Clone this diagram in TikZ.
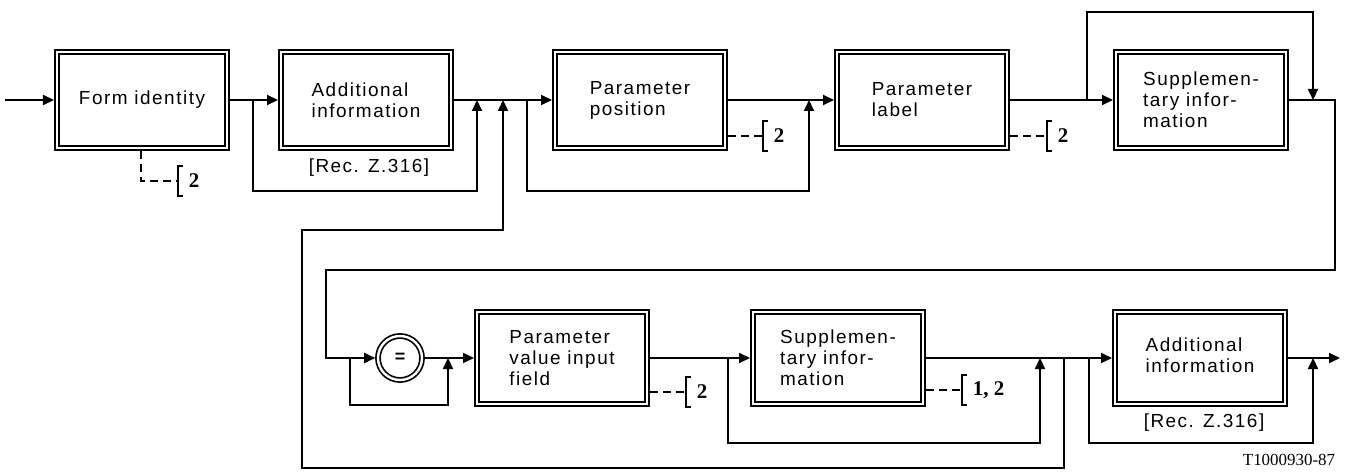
\documentclass[tikz,border=0pt]{standalone}
\usepackage{fontspec}
\setmainfont{Liberation Sans}[LetterSpace=8]
\newfontfamily\numfont{Liberation Serif}
\usetikzlibrary{arrows.meta}
\newcommand\boxfont{\fontsize{19}{21}\selectfont}
\newcommand\refnumfont{\numfont\bfseries\fontsize{21}{22}\selectfont}
\begin{document}
\begin{tikzpicture}[x=1bp,y=-1bp,line width=1.8bp,
  box/.style={draw, double, double distance=2.6bp, line width=1.8bp,
    minimum width=170bp, minimum height=96bp, outer sep=3bp, inner sep=1bp,
    align=left, font=\boxfont},
  lowbox/.style={box, minimum height=92bp},
  arr/.style={-{Triangle[length=11bp,width=10bp]}, line width=1.9bp},
  dsh/.style={line width=1.7bp, dash pattern=on 8bp off 5bp},
  brk/.style={line width=2.4bp},
  num/.style={font=\refnumfont, inner sep=0pt, anchor=west},
  lbl/.style={font=\boxfont, inner sep=0pt}]
\useasboundingbox (0,0) rectangle (1356,472);

% top row boxes
\node[box] (b1) at (142,100) {Form identity};
\node[box] (b2) at (366,100) {Additional\\information};
\node[box] (b3) at (640,100) {Parameter\\position};
\node[box] (b4) at (922,100) {Parameter\\label};
\node[box] (b5) at (1201,100) {Supplemen-\\tary infor-\\mation};

% bottom row
\node[draw, circle, double, double distance=2.4bp, line width=1.7bp,
  minimum size=44bp, inner sep=0pt, outer sep=2.8bp,
  font=\bfseries\fontsize{18}{18}\selectfont] (circ) at (400,358) {=};
\node[lowbox] (b6) at (562,358) {Parameter\\value input\\field};
\node[lowbox] (b7) at (838,358) {Supplemen-\\tary infor-\\mation};
\node[lowbox] (b8) at (1200,358) {\raisebox{-12bp}{\begin{tabular}{@{}l@{}}Additional\\information\end{tabular}}};

% reference labels
\node[lbl] (r1) at (369,168) {[Rec. Z.316]};
\node[lbl] (r2) at (1204,423) {[Rec. Z.316]};
\node[font=\numfont\fontsize{17}{19}\selectfont, inner sep=0pt] (tag) at (1289,460) {T1000930-87};

% coordinates
\coordinate (in) at (5,100);
\coordinate (lb1) at (0,191);
\coordinate (lb2) at (0,405);
\coordinate (lb3) at (0,443);
\coordinate (top) at (0,12);
\coordinate (j1) at (253,100);
\coordinate (m1) at (477,100);
\coordinate (m2) at (503,100);
\coordinate (j3) at (527,100);
\coordinate (m3) at (809,100);
\coordinate (j5) at (1087,100);
\coordinate (m5) at (1313,100);
\coordinate (r) at (1335,270);
\coordinate (c2) at (326,358);
\coordinate (j6) at (350,358);
\coordinate (m6) at (448,358);
\coordinate (j7) at (728,358);
\coordinate (m7) at (1040,358);
\coordinate (f0) at (1064,358);
\coordinate (fb) at (302,468);
\coordinate (ft) at (503,230);
\coordinate (j8) at (1089,358);
\coordinate (m8) at (1313,358);
\coordinate (out) at (1340,358);

% top row connectors
\draw[arr] (in) -- (b1.west);
\draw[arr] (b1.east) -- (b2.west);
\draw[arr] (j1) |- (lb1 -| m1) -- (m1);
\draw[arr] (b2.east) -- (b3.west);
\draw[arr] (j3) |- (lb1 -| m3) -- (m3);
\draw[arr] (b3.east) -- (b4.west);
\draw[arr] (b4.east) -- (b5.west);
\draw[arr] (j5) |- (top -| m5) -- (m5);
\draw[arr] (b5.east) -| (r) -| (c2) -- (circ.west);

% bottom row connectors
\draw[arr] (j6) |- (lb2 -| m6) -- (m6);
\draw[arr] (circ.east) -- (b6.west);
\draw[arr] (b6.east) -- (b7.west);
\draw[arr] (j7) |- (lb3 -| m7) -- (m7);
\draw[arr] (b7.east) -- (b8.west);
\draw[arr] (j8) |- (lb3 -| m8) -- (m8);
\draw[arr] (b8.east) -- (out);
\draw[arr] (f0) |- (fb) |- (ft) -- (m2);

% dashed references
\coordinate (k1) at (141,181);
\coordinate (br1) at (178,181);
\coordinate (br3) at (763,136);
\coordinate (br4) at (1047,136);
\coordinate (br6) at (686,392);
\coordinate (br7) at (962,390);
\draw[dsh] (b1.south -| k1) -- (k1) -- (br1);
\draw[dsh] (b3.east |- br3) -- (br3);
\draw[dsh] (b4.east |- br4) -- (br4);
\draw[dsh] (b6.east |- br6) -- (br6);
\draw[dsh] (b7.east |- br7) -- (br7);
\foreach \b in {br1,br3,br4,br6,br7}{
  \draw[brk] (\b) ++(5,-15) -- ++(-5,0) -- ++(0,30) -- ++(5,0);
}
\node[num] (n1) at ([xshift=10bp]br1) {2};
\node[num] (n3) at ([xshift=10bp]br3) {2};
\node[num] (n4) at ([xshift=10bp]br4) {2};
\node[num] (n6) at ([xshift=10bp]br6) {2};
\node[num] (n7) at ([xshift=10bp]br7) {1, 2};
\end{tikzpicture}
\end{document}
